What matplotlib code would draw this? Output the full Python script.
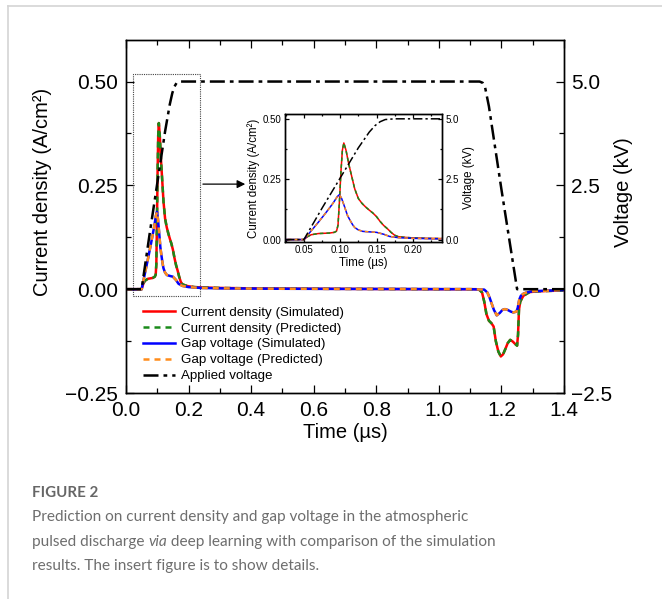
import matplotlib
matplotlib.use("Agg")
import matplotlib.pyplot as plt
from matplotlib.lines import Line2D
from matplotlib.patches import Rectangle
from matplotlib.ticker import MultipleLocator, FuncFormatter

t_cd = [0.0, 0.05, 0.055, 0.06, 0.07, 0.085, 0.092, 0.095, 0.097, 0.099,
        0.101, 0.103, 0.105, 0.108, 0.112, 0.116, 0.12, 0.125, 0.13, 0.135,
        0.14, 0.145, 0.15, 0.155, 0.16, 0.165, 0.17, 0.175, 0.18, 0.19,
        0.2, 0.22, 0.25, 0.3, 0.4, 0.6, 0.8, 1.0, 1.12, 1.13,
        1.138, 1.145, 1.152, 1.16, 1.168, 1.175, 1.182, 1.19, 1.198, 1.205,
        1.212, 1.22, 1.228, 1.236, 1.244, 1.25, 1.253, 1.256, 1.26, 1.27,
        1.29, 1.32, 1.4]
cd_sim = [0.0, 0.0, 0.012, 0.02, 0.025, 0.027, 0.03, 0.035, 0.06, 0.16,
          0.28, 0.37, 0.40, 0.37, 0.31, 0.26, 0.21, 0.17, 0.15, 0.135,
          0.122, 0.11, 0.095, 0.075, 0.058, 0.045, 0.03, 0.018, 0.012, 0.009,
          0.007, 0.005, 0.004, 0.003, 0.002, 0.001, 0.0005, 0.0, 0.0, -0.002,
          -0.008, -0.03, -0.06, -0.076, -0.082, -0.09, -0.125, -0.15, -0.162, -0.157,
          -0.145, -0.13, -0.122, -0.126, -0.132, -0.136, -0.11, -0.05, -0.03, -0.016,
          -0.007, -0.005, -0.003]
cd_pred = list(cd_sim)  # prediction sits on top of the simulation

# gap voltage (kV)
t_gv = [0.0, 0.05, 0.06, 0.07, 0.08, 0.09, 0.096, 0.099, 0.102, 0.106,
        0.11, 0.113, 0.117, 0.12, 0.125, 0.131, 0.14, 0.15, 0.16, 0.168,
        0.18, 0.2, 0.24, 0.3, 0.5, 0.8, 1.1, 1.145, 1.155, 1.162,
        1.168, 1.176, 1.185, 1.195, 1.203, 1.211, 1.22, 1.23, 1.238, 1.248,
        1.252, 1.257, 1.262, 1.27, 1.28, 1.3, 1.33, 1.37, 1.4]
gv_sim = [0.0, 0.0, 0.36, 0.72, 1.1, 1.5, 1.78, 1.86, 1.7, 1.36,
          1.0, 0.83, 0.62, 0.5, 0.4, 0.34, 0.32, 0.3, 0.22, 0.13,
          0.08, 0.05, 0.03, 0.02, 0.01, 0.005, 0.0, -0.01, -0.08, -0.2,
          -0.33, -0.5, -0.63, -0.57, -0.5, -0.48, -0.5, -0.54, -0.56, -0.54,
          -0.45, -0.25, -0.16, -0.11, -0.08, -0.05, -0.04, -0.03, -0.02]
gv_pred = list(gv_sim)

# applied voltage (kV)
t_av = [0.0, 0.05, 0.075, 0.1, 0.125, 0.14, 0.148, 0.155, 0.162, 0.175,
        1.13, 1.14, 1.148, 1.16, 1.2, 1.25, 1.4]
av = [0.0, 0.0, 1.3, 2.55, 3.8, 4.45, 4.72, 4.88, 4.97, 5.0,
      5.0, 4.97, 4.85, 4.4, 2.4, 0.0, 0.0]

labels = ["Current density (Simulated)", "Current density (Predicted)",
          "Gap voltage (Simulated)", "Gap voltage (Predicted)", "Applied voltage"]

RED, GREEN, BLUE, ORANGE = "#ff0000", "#1a8a1a", "#0000ff", "#ff8c1a"
DASH = (2.4, 2.0)
DASHDOT = (6, 2, 1.5, 2)

plt.rcParams["font.family"] = ["Liberation Sans", "DejaVu Sans"]


def fmt(n):
    return FuncFormatter(lambda v, p: f"{v:.{n}f}".replace("-", "\u2212"))


def draw_series(ax, axv, lw):
    ax.plot(t_cd, cd_sim, color=RED, lw=lw)
    ax.plot(t_cd, cd_pred, color=GREEN, lw=lw, dashes=DASH)
    axv.plot(t_gv, gv_sim, color=BLUE, lw=lw)
    axv.plot(t_gv, gv_pred, color=ORANGE, lw=lw, dashes=DASH)
    axv.plot(t_av, av, color="black", lw=lw, dashes=DASHDOT)


def style_ticks(ax, size, length):
    ax.tick_params(which="both", direction="in", labelsize=size, width=0.9)
    ax.tick_params(which="major", length=length)
    ax.tick_params(which="minor", length=length * 0.55)
    for s in ax.spines.values():
        s.set_linewidth(1.0)


fig = plt.figure(figsize=(6.62, 5.99), dpi=100)
ax = fig.add_axes([0.1903, 0.3439, 0.6617, 0.5893])
ax2 = ax.twinx()
draw_series(ax, ax2, 1.8)

ax.set_xlim(0, 1.4)
ax.set_ylim(-0.25, 0.60)
ax2.set_ylim(-2.5, 6.0)
ax.set_xticks([0.0, 0.2, 0.4, 0.6, 0.8, 1.0, 1.2, 1.4])
ax.xaxis.set_minor_locator(MultipleLocator(0.1))
ax.set_yticks([-0.25, 0.0, 0.25, 0.50])
ax.yaxis.set_minor_locator(MultipleLocator(0.125))
ax2.set_yticks([-2.5, 0.0, 2.5, 5.0])
ax2.yaxis.set_minor_locator(MultipleLocator(1.25))
ax.xaxis.set_major_formatter(fmt(1))
ax.yaxis.set_major_formatter(fmt(2))
ax2.yaxis.set_major_formatter(fmt(1))
ax.tick_params(top=True, which="both")
style_ticks(ax, 15, 6)
style_ticks(ax2, 15, 6)
ax.tick_params(axis="x", pad=6)
ax.tick_params(axis="y", pad=6)
ax2.tick_params(axis="y", pad=5)
ax.set_xlabel("Time (µs)", fontsize=14.5)
ax.set_ylabel("Current density (A/cm²)", fontsize=14.5)
ax2.set_ylabel("Voltage (kV)", fontsize=14.5)
ax.xaxis.set_label_coords(0.5, -0.085)
ax.yaxis.set_label_coords(-0.17, 0.57)
ax2.yaxis.set_label_coords(1.115, 0.57)

# zoom box and arrow
ax.add_patch(Rectangle((0.022, -0.017), 0.215, 0.536, fill=False,
                       ls=(0, (1, 1)), lw=0.8, ec="#444444", zorder=5))
ax.annotate("", xy=(0.39, 0.253), xytext=(0.237, 0.253),
            arrowprops=dict(arrowstyle="-|>", color="black", lw=0.9,
                            mutation_scale=12))

handles = [Line2D([], [], color=RED, lw=1.8),
           Line2D([], [], color=GREEN, lw=1.8, dashes=DASH),
           Line2D([], [], color=BLUE, lw=1.8),
           Line2D([], [], color=ORANGE, lw=1.8, dashes=DASH),
           Line2D([], [], color="black", lw=1.8, dashes=DASHDOT)]
ax.legend(handles, labels, loc="lower left", bbox_to_anchor=(0.015, 0.0),
          frameon=False, fontsize=9.6, handlelength=2.4, handletextpad=0.4,
          labelspacing=0.27, borderaxespad=0.4)

# inset
ins = fig.add_axes([0.4305, 0.596, 0.237, 0.2137])
ins2 = ins.twinx()
draw_series(ins, ins2, 1.1)
ins.set_xlim(0.024, 0.24)
ins.set_ylim(-0.01, 0.52)
ins2.set_ylim(-0.1, 5.2)
ins.set_xticks([0.05, 0.10, 0.15, 0.20])
ins.xaxis.set_minor_locator(MultipleLocator(0.025))
ins.set_yticks([0.0, 0.25, 0.50])
ins.yaxis.set_minor_locator(MultipleLocator(0.125))
ins2.set_yticks([0.0, 2.5, 5.0])
ins2.yaxis.set_minor_locator(MultipleLocator(1.25))
ins.xaxis.set_major_formatter(fmt(2))
ins.yaxis.set_major_formatter(fmt(2))
ins2.yaxis.set_major_formatter(fmt(1))
ins.tick_params(top=True, which="both")
style_ticks(ins, 7, 3)
style_ticks(ins2, 7, 3)
ins.tick_params(pad=2.5)
ins2.tick_params(pad=2.5)
ins.set_xlabel("Time (µs)", fontsize=8.3, labelpad=1)
ins.set_ylabel("Current density (A/cm²)", fontsize=8.3, labelpad=2)
ins2.set_ylabel("Voltage (kV)", fontsize=8.3, labelpad=3)

# page frame lines and caption
fig.add_artist(Line2D([8 / 662, 8 / 662], [0, 1 - 6 / 599], color="#d4d4d4", lw=1.2))
fig.add_artist(Line2D([8 / 662, 1], [1 - 6 / 599, 1 - 6 / 599], color="#d4d4d4", lw=1.2))

cap_font = ["Lato", "DejaVu Sans"]
cap_col = "#6e6e6e"
cap_size = 11.1
x0 = 32 / 662
fig.text(x0, 1 - 493 / 599, "FIGURE 2", family=cap_font, fontsize=10.9,
         fontweight="bold", color="#666666", va="center")
fig.text(x0, 1 - 517 / 599, "Prediction on current density and gap voltage in the atmospheric",
         family=cap_font, fontsize=cap_size, color=cap_col, va="center")
renderer = fig.canvas.get_renderer()
parts = [("pulsed discharge ", "normal"), ("via", "italic"),
         (" deep learning with comparison of the simulation", "normal")]
x = x0
for txt, style in parts:
    t = fig.text(x, 1 - 542 / 599, txt, family=cap_font, fontsize=cap_size,
                 style=style, color=cap_col, va="center")
    bb = t.get_window_extent(renderer)
    x += bb.width / fig.bbox.width
fig.text(x0, 1 - 566 / 599, "results. The insert figure is to show details.",
         family=cap_font, fontsize=cap_size, color=cap_col, va="center")

fig.savefig("out.png", dpi=100)
